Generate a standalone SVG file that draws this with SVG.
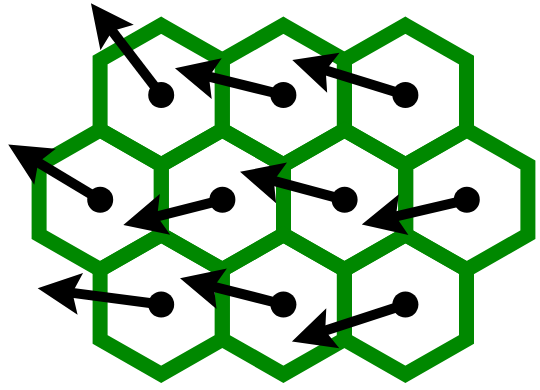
<svg xmlns="http://www.w3.org/2000/svg" width="540" height="390" viewBox="0 0 540 390">
<style>
.hex{fill:none;stroke:#008800;stroke-width:15;stroke-linejoin:miter}
.dot{fill:#000}
.arr{stroke:#000;stroke-width:10;fill:none;marker-end:url(#head)}
</style>
<defs>
<polygon id="hexshape" points="0,-69.8 61.1,-34.9 61.1,34.9 0,69.8 -61.1,34.9 -61.1,-34.9"/>
<marker id="head" markerUnits="userSpaceOnUse" markerWidth="50" markerHeight="50" refX="10" refY="0" orient="auto" overflow="visible">
<path d="M0,-21 L43,0 L0,21 L8,0 Z" fill="#000"/>
</marker>
</defs>
<rect width="540" height="390" fill="#fff"/>
<g id="h11" transform="translate(161.2,95)"><use href="#hexshape" class="hex"/><circle class="dot" r="13"/></g>
<g id="h12" transform="translate(283.4,95)"><use href="#hexshape" class="hex"/><circle class="dot" r="13"/></g>
<g id="h13" transform="translate(405.4,95)"><use href="#hexshape" class="hex"/><circle class="dot" r="13"/></g>
<g id="h21" transform="translate(100.2,199.8)"><use href="#hexshape" class="hex"/><circle class="dot" r="13"/></g>
<g id="h22" transform="translate(222.4,199.8)"><use href="#hexshape" class="hex"/><circle class="dot" r="13"/></g>
<g id="h23" transform="translate(344.6,199.8)"><use href="#hexshape" class="hex"/><circle class="dot" r="13"/></g>
<g id="h24" transform="translate(466.8,199.8)"><use href="#hexshape" class="hex"/><circle class="dot" r="13"/></g>
<g id="h31" transform="translate(161.2,304.5)"><use href="#hexshape" class="hex"/><circle class="dot" r="13"/></g>
<g id="h32" transform="translate(283.4,304.5)"><use href="#hexshape" class="hex"/><circle class="dot" r="13"/></g>
<g id="h33" transform="translate(405.4,304.5)"><use href="#hexshape" class="hex"/><circle class="dot" r="13"/></g>
<g id="connectors">
<line class="arr" x1="161.2" y1="95" x2="111.0" y2="29.5"/>
<line class="arr" x1="283.4" y1="95" x2="207.0" y2="76.2"/>
<line class="arr" x1="405.4" y1="95" x2="323.8" y2="69.8"/>
<line class="arr" x1="100.2" y1="199.8" x2="36.5" y2="161.5"/>
<line class="arr" x1="222.4" y1="199.8" x2="155.3" y2="216.9"/>
<line class="arr" x1="344.6" y1="199.8" x2="271.9" y2="180.3"/>
<line class="arr" x1="466.8" y1="199.8" x2="393.9" y2="216.9"/>
<line class="arr" x1="161.2" y1="304.5" x2="70.4" y2="292.6"/>
<line class="arr" x1="283.4" y1="304.5" x2="212.0" y2="286.3"/>
<line class="arr" x1="405.4" y1="304.5" x2="323.3" y2="331.3"/>
</g>
</svg>
